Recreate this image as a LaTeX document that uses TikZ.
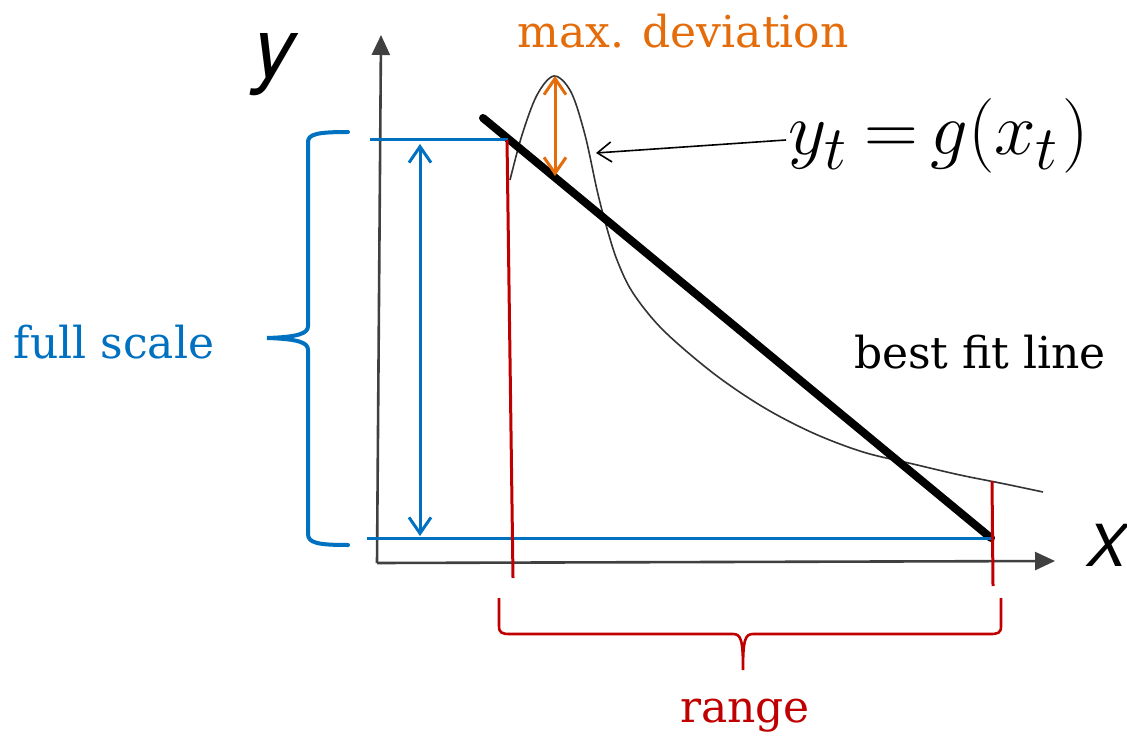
\documentclass[tikz,border=0pt]{standalone}
\usepackage{graphicx}
\usepackage{fontspec}
\usetikzlibrary{arrows.meta}
\newfontfamily\lblfont{DejaVu Serif}
\newfontfamily\axfont{TeX Gyre Heros}
\definecolor{cblue}{RGB}{0,112,192}
\definecolor{corange}{RGB}{228,108,10}
\definecolor{cred}{RGB}{192,0,0}
\newcommand{\subt}{\raisebox{-5pt}{\fontsize{20.74}{24}\selectfont$t$}}
\tikzset{
  axis/.style={line width=1.3pt, draw=black!75, -{Triangle[length=10pt,width=9pt]}},
  blueline/.style={line width=1.5pt, draw=cblue},
  bluedbl/.style={line width=1.5pt, draw=cblue, {Straight Barb[length=8pt,width=11pt]}-{Straight Barb[length=8pt,width=11pt]}},
  orangedbl/.style={line width=1.5pt, draw=corange, {Straight Barb[length=8pt,width=11pt]}-{Straight Barb[length=8pt,width=11pt]}},
  redline/.style={line width=1.5pt, draw=cred},
  lbl/.style={font=\lblfont\fontsize{22}{26}\selectfont, inner sep=0pt},
}
\begin{document}
\begin{tikzpicture}[x=0.5pt,y=-0.5pt]
\useasboundingbox (0,0) rectangle (1127,742);
% axes
\coordinate (O) at (377,563);
\coordinate (ytip) at (381,35);
\coordinate (xtip) at (1055,561);
\draw[axis] (O) -- (ytip);
\draw[axis] (O) -- (xtip);
\node[font=\axfont\itshape\fontsize{42}{46}\selectfont, inner sep=0pt] (ylab) at (274,65) {y};
\node[font=\axfont\itshape\fontsize{29}{34}\selectfont, inner sep=0pt] (xlab) at (1107,545) {X};
% curve
\draw[line width=0.8pt, black!80] plot[smooth, tension=0.55] coordinates {
 (510,180) (522,135) (537,95) (554,76) (571,92) (585,135) (597,190) (606,225) (617,260) (633,293)
 (663,330) (713,373) (763,407) (813,433) (863,452) (913,464) (960,475) (1005,484) (1043,492)};
% best fit line
\coordinate (f1) at (483,118);
\coordinate (f2) at (991,538);
\draw[line width=4pt, line cap=round] (f1) -- (f2);
% blue lines
\coordinate (bt1) at (370,140);
\coordinate (bt2) at (508,140);
\coordinate (bb1) at (367,538);
\coordinate (bb2) at (994,538);
\draw[blueline] (bt1) -- (bt2);
\draw[blueline] (bb1) -- (bb2);
\coordinate (da1) at (420,144);
\coordinate (da2) at (420,536);
\draw[bluedbl] (da1) -- (da2);
% blue brace
\draw[line width=2pt, cblue, line cap=round]
  (348,132) .. controls (318,132) and (308,134) .. (308,142) -- (308,326)
  .. controls (308,333) and (300,337) .. (267,338)
  .. controls (300,339) and (308,343) .. (308,350) -- (308,534)
  .. controls (308,543) and (318,545) .. (348,545);
\node[lbl, text=cblue] (fs) at (114,342) {full scale};
% red lines
\coordinate (r1a) at (507,140);
\coordinate (r1b) at (513,578);
\coordinate (r2a) at (992,481);
\coordinate (r2b) at (993,586);
\draw[redline] (r1a) -- (r1b);
\draw[redline] (r2a) -- (r2b);
% red brace
\draw[line width=1.3pt, cred]
  (499,598) -- (499,626) .. controls (499,633) and (502,634) .. (510,634) -- (733,634)
  .. controls (741,634) and (743,640) .. (743,670)
  .. controls (743,640) and (745,634) .. (753,634) -- (990,634)
  .. controls (998,634) and (1001,633) .. (1001,626) -- (1001,598);
\node[lbl, text=cred] (rg) at (745,716) {range};
% max deviation
\coordinate (m1) at (555,76);
\coordinate (m2) at (555,176);
\draw[orangedbl] (m1) -- (m2);
\node[lbl, text=corange] (md) at (683,31) {max. deviation};
% equation
\node[inner sep=0pt, anchor=base west] (eq) at (788,155)
  {\scalebox{1.5}{\fontsize{24.88}{30}\selectfont $y$\kern-0.7pt\subt\hspace{6pt}$=$\hspace{4pt}$g($$x$\subt\kern1.4pt$)$}};
\coordinate (eqs) at (786,140);
\coordinate (cpt) at (596,153);
\draw[line width=0.8pt, -{Straight Barb[length=7pt,width=10pt]}] (eqs) -- (cpt);
\node[lbl, text=black] (bf) at (980,352) {best fit line};
\end{tikzpicture}
\end{document}
